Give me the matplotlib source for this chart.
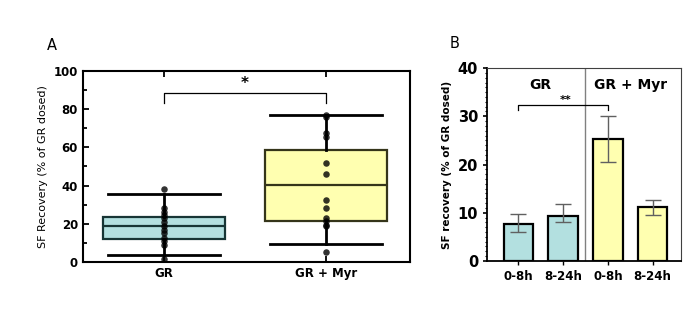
import matplotlib
matplotlib.use("Agg")
import matplotlib.pyplot as plt
from matplotlib.ticker import MultipleLocator

# ---------------- Data ----------------
groups_a = ["GR", "GR + Myr"]
gr_points = [38.3, 28.2, 26.4, 24.7, 23.0, 20.7, 18.6, 16.9, 15.1, 12.5, 10.8, 8.7, 1.7]
myr_points = [77.0, 76.0, 67.3, 65.2, 52.0, 46.0, 32.5, 28.2, 23.0, 21.2, 19.5, 18.6, 5.2]
box_med = [18.6, 40.2]
box_q1 = [12.0, 21.7]
box_q3 = [23.8, 58.6]
box_wlo = [3.8, 9.4]
box_whi = [35.5, 76.9]

time_labels = ["0-8h", "8-24h", "0-8h", "8-24h"]
bar_means = [7.7, 9.4, 25.2, 11.1]
bar_lo = [6.0, 8.0, 20.5, 9.5]
bar_hi = [9.7, 11.8, 30.0, 12.7]
bar_groups = ["GR", "GR + Myr"]

teal = "#b3e0e0"
yellow = "#ffffb0"

fig = plt.figure(figsize=(6.85, 3.32), dpi=100)
fig.patch.set_facecolor("white")

# ---------------- Panel A ----------------
axA = fig.add_axes([0.121, 0.211, 0.477, 0.575])
stats = []
for i in range(2):
    stats.append(dict(med=box_med[i], q1=box_q1[i], q3=box_q3[i],
                      whislo=box_wlo[i], whishi=box_whi[i], fliers=[], label=groups_a[i]))
bp = axA.bxp(stats, positions=[1, 2], widths=0.75, patch_artist=True,
             showfliers=False, capwidths=0.69,
             boxprops=dict(linewidth=1.6, edgecolor="black"),
             medianprops=dict(color="black", linewidth=1.6),
             whiskerprops=dict(color="black", linewidth=2.0),
             capprops=dict(color="black", linewidth=2.0))
bp["boxes"][0].set_facecolor(teal)
bp["boxes"][0].set_edgecolor("#173535")
bp["boxes"][1].set_facecolor(yellow)
bp["boxes"][1].set_edgecolor("#35351a")
bp["medians"][0].set_color("#173535")
bp["medians"][1].set_color("#35351a")

for pos, pts in zip([1, 2], [gr_points, myr_points]):
    axA.scatter([pos] * len(pts), pts, s=22, color="black", zorder=3, alpha=0.8,
                linewidths=0)

axA.set_xlim(0.5, 2.515)
axA.set_ylim(0, 100)
axA.yaxis.set_major_locator(MultipleLocator(20))
axA.yaxis.set_minor_locator(MultipleLocator(10))
axA.tick_params(axis="both", which="both", direction="in", top=True, right=False)
axA.tick_params(axis="both", which="major", length=4, width=1.3)
axA.tick_params(axis="y", which="minor", length=3, width=1.3)
axA.set_xticks([1, 2])
axA.set_xticklabels(groups_a, fontsize=8.5, fontweight="bold")
for lab in axA.get_yticklabels():
    lab.set_fontweight("bold")
    lab.set_fontsize(8.5)
for s in axA.spines.values():
    s.set_linewidth(1.5)
axA.set_ylabel("SF Recovery (% of GR dosed)", fontsize=8)

# significance bracket
axA.plot([1, 1, 2, 2], [83.3, 88.7, 88.7, 83.3], color="black", lw=0.9)
axA.text(1.5, 89.5, "*", ha="center", va="bottom", fontsize=11, fontweight="bold")

fig.text(0.068, 0.864, "A", fontsize=10.5, va="center")

# ---------------- Panel B ----------------
axB = fig.add_axes([0.711, 0.214, 0.283, 0.581])
xpos = list(range(len(bar_means)))
colors = [teal, teal, yellow, yellow]
axB.bar(xpos, bar_means, width=0.66, color=colors, edgecolor="black", linewidth=1.6, zorder=2)
err_low = [m - l for m, l in zip(bar_means, bar_lo)]
err_high = [h - m for m, h in zip(bar_means, bar_hi)]
axB.errorbar(xpos, bar_means, yerr=[err_low, err_high], fmt="none",
             ecolor="#606060", elinewidth=1.0, capsize=6, capthick=1.0, zorder=3)
axB.axvline(1.485, color="#808080", lw=1.0)
axB.set_xlim(-0.70, 3.63)
axB.set_ylim(0, 40)
axB.yaxis.set_major_locator(MultipleLocator(10))
axB.yaxis.set_minor_locator(MultipleLocator(1))
axB.tick_params(axis="y", which="major", direction="out", length=3, width=1.2)
axB.tick_params(axis="y", which="minor", direction="out", length=1.5, width=0.8)
axB.tick_params(axis="x", which="major", direction="out", length=3, width=1.0)
axB.set_xticks(xpos)
axB.set_xticklabels(time_labels, fontsize=8.5, fontweight="bold")
for lab in axB.get_yticklabels():
    lab.set_fontweight("bold")
    lab.set_fontsize(10.5)
axB.spines["left"].set_linewidth(1.3)
axB.spines["bottom"].set_linewidth(1.3)
axB.spines["top"].set_linewidth(0.8)
axB.spines["right"].set_linewidth(0.8)
axB.spines["top"].set_color("#404040")
axB.spines["right"].set_color("#404040")
axB.set_ylabel("SF recovery (% of GR dosed)", fontsize=7.5, fontweight="bold")

axB.text(0.5, 36.5, bar_groups[0], ha="center", va="center", fontsize=10, fontweight="bold")
axB.text(2.5, 36.5, bar_groups[1], ha="center", va="center", fontsize=10, fontweight="bold")

axB.plot([0, 0, 2, 2], [31.2, 32.3, 32.3, 31.2], color="black", lw=0.9)
axB.text(1.05, 32.4, "**", ha="center", va="bottom", fontsize=8, fontweight="bold")

fig.text(0.657, 0.870, "B", fontsize=10.5, va="center")

fig.savefig("out.png", dpi=100)
